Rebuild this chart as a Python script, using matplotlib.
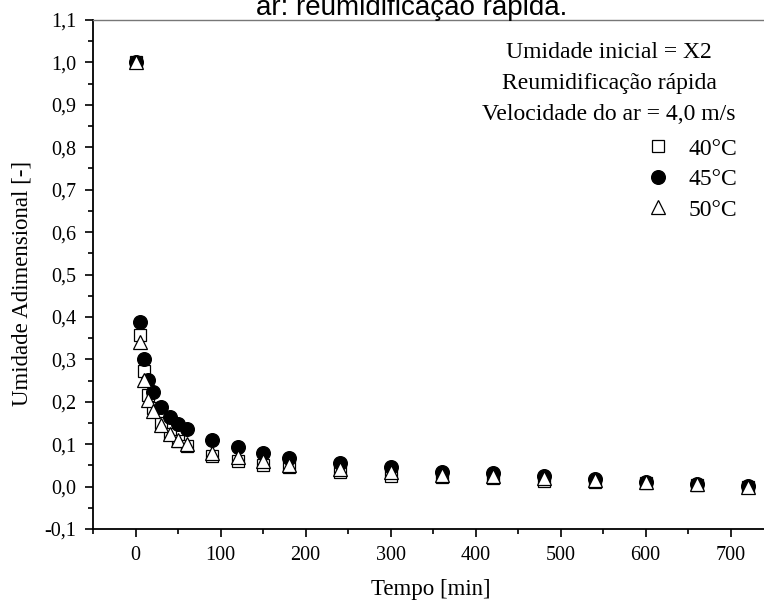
import numpy as np
import matplotlib
matplotlib.use("Agg")
import matplotlib.pyplot as plt
from matplotlib.ticker import MultipleLocator, FuncFormatter

# tempo [min]
tempo = [0, 5, 10, 15, 20, 30, 40, 50, 60, 90, 120, 150, 180,
         240, 300, 360, 420, 480, 540, 600, 660, 720]

# umidade adimensional por temperatura
u_40 = [1.0, 0.357, 0.272, 0.215, 0.185, 0.150, 0.125, 0.108, 0.095, 0.072, 0.060, 0.052, 0.045,
        0.035, 0.025, 0.022, 0.020, 0.014, 0.010, 0.008, 0.004, -0.002]
u_45 = [1.0, 0.389, 0.300, 0.251, 0.222, 0.187, 0.163, 0.148, 0.135, 0.110, 0.093, 0.080, 0.068,
        0.055, 0.045, 0.035, 0.032, 0.025, 0.018, 0.011, 0.006, 0.001]
u_50 = [1.0, 0.342, 0.251, 0.205, 0.178, 0.145, 0.125, 0.110, 0.100, 0.080, 0.070, 0.060, 0.052,
        0.042, 0.035, 0.028, 0.025, 0.020, 0.015, 0.010, 0.005, 0.000]

series_labels = ["40°C", "45°C", "50°C"]
info_lines = ["Umidade inicial = X2", "Reumidificação rápida", "Velocidade do ar = 4,0 m/s"]

W, H = 764, 603
fig = plt.figure(figsize=(W / 100, H / 100), dpi=100)

def px(x, y):
    return x / W, 1 - y / H

# axes from x=93..773 px, y=20..529 px (right side cut off by the image edge)
ax = fig.add_axes([93 / W, (H - 529) / H, (773 - 93) / W, (529 - 20) / H])

serif = "Liberation Serif"

ax.plot(tempo, u_40, ls="none", marker="s", ms=8, mfc="white", mec="black", mew=0.9,
        label=series_labels[0], zorder=3)
ax.plot(tempo, u_45, ls="none", marker="o", ms=9.8, mfc="black", mec="black",
        label=series_labels[1], zorder=4)
ax.plot(tempo, u_50, ls="none", marker="^", ms=10, mfc="white", mec="black", mew=0.9,
        label=series_labels[2], zorder=5)

ax.set_xlim(-50, 750)
ax.set_ylim(-0.1, 1.1)
ax.xaxis.set_major_locator(MultipleLocator(100))
ax.xaxis.set_minor_locator(MultipleLocator(50))
ax.yaxis.set_major_locator(MultipleLocator(0.1))
ax.yaxis.set_minor_locator(MultipleLocator(0.05))
ax.yaxis.set_major_formatter(FuncFormatter(lambda v, p: f"{v:.1f}".replace(".", ",")))

ax.tick_params(which="both", direction="out", top=False, right=False, width=1.2)
ax.tick_params(which="major", length=6, labelsize=14.5, pad=6)
ax.tick_params(which="minor", length=3.5)
for lab in ax.get_xticklabels() + ax.get_yticklabels():
    lab.set_fontfamily(serif)

ax.spines["left"].set_linewidth(1.3)
ax.spines["bottom"].set_linewidth(1.3)
ax.spines["top"].set_color("#777777")
ax.spines["top"].set_linewidth(1.0)
ax.spines["right"].set_visible(False)

ax.set_xlabel("Tempo [min]", fontsize=16.5, family=serif)
ax.set_ylabel("Umidade Adimensional [-]", fontsize=16.5, family=serif)
ax.xaxis.set_label_coords(*px(431, 590), transform=fig.transFigure)
ax.yaxis.set_label_coords(*px(22, 283), transform=fig.transFigure)
ax.xaxis.label.set_va("center")
ax.yaxis.label.set_va("center")

# cut-off title line, as in the source figure
fig.text(*px(412, 15), "ar: reumidificação rápida.", ha="center", va="baseline",
         fontsize=20, family="Liberation Sans")

for i, line in enumerate(info_lines):
    fig.text(*px(609, 52 + 31.5 * i), line, ha="center", va="center",
             fontsize=17, family=serif)

leg = ax.legend(loc="upper right", bbox_to_anchor=px(737, 138), bbox_transform=fig.transFigure,
                frameon=False, prop={"family": serif, "size": 17}, handlelength=1.0,
                handletextpad=0.8, labelspacing=0.38, borderpad=0, borderaxespad=0)

fig.savefig("out.png", dpi=100)
